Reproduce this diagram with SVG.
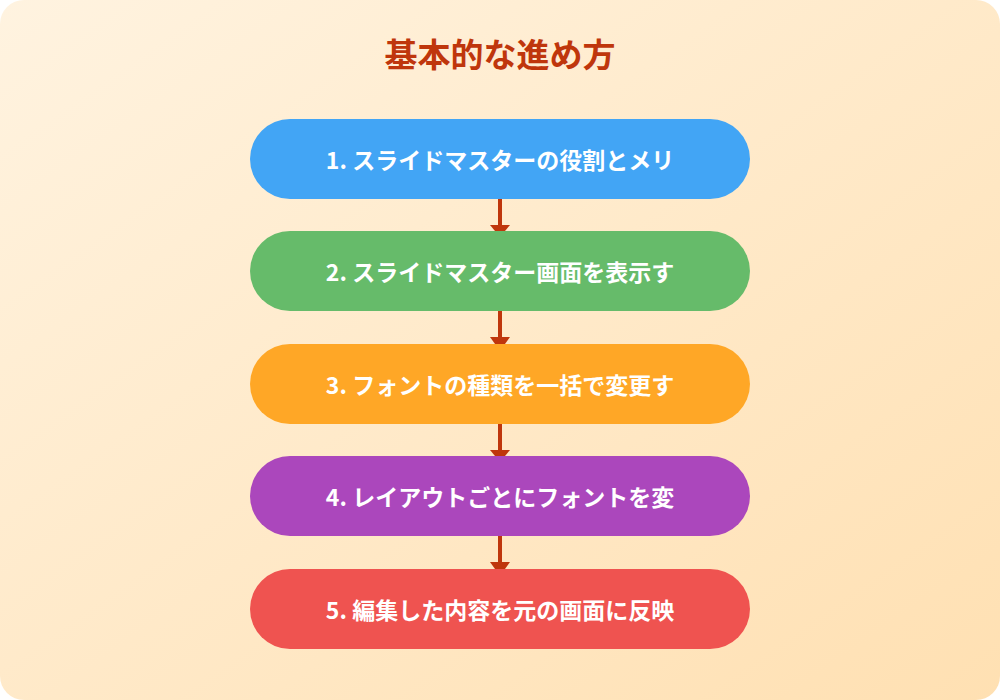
<svg xmlns="http://www.w3.org/2000/svg" width="1000" height="700" viewBox="0 0 1000 700">
<defs>
<linearGradient id="bg" x1="0" y1="0" x2="1" y2="1">
<stop offset="0" stop-color="#FFF3E0"/>
<stop offset="1" stop-color="#FFE0B2"/>
</linearGradient>
<style>
.node text{font-family:"Noto Sans CJK JP","Noto Sans",sans-serif;font-weight:bold;font-size:23px;fill:#fff;text-anchor:middle;dominant-baseline:central}
.conn line{stroke:#BF360C;stroke-width:4}
.conn polygon{fill:#BF360C}
.title{font-family:"Noto Sans CJK JP","Noto Sans",sans-serif;font-weight:bold;font-size:33px;fill:#BF360C;text-anchor:middle}
</style>
</defs>
<rect width="1000" height="700" fill="#fff"/>
<rect x="0" y="0" width="1000" height="700" rx="24" fill="url(#bg)"/>
<text class="title" x="500" y="67">基本的な進め方</text>
<g class="conn">
<line x1="500" y1="199" x2="500" y2="226"/>
<polygon points="490,225 510,225 505,231 495,231"/>
<line x1="500" y1="311" x2="500" y2="338"/>
<polygon points="490,337 510,337 505,344 495,344"/>
<line x1="500" y1="424" x2="500" y2="451"/>
<polygon points="490,450 510,450 505,456 495,456"/>
<line x1="500" y1="536" x2="500" y2="563"/>
<polygon points="490,562 510,562 505,569 495,569"/>
</g>
<g id="node1" class="node"><rect x="250" y="119" width="500" height="80" rx="40" fill="#42A5F5"/><text x="500" y="159">1. スライドマスターの役割とメリ</text></g>
<g id="node2" class="node"><rect x="250" y="231" width="500" height="80" rx="40" fill="#66BB6A"/><text x="500" y="271">2. スライドマスター画面を表示す</text></g>
<g id="node3" class="node"><rect x="250" y="344" width="500" height="80" rx="40" fill="#FFA726"/><text x="500" y="384">3. フォントの種類を一括で変更す</text></g>
<g id="node4" class="node"><rect x="250" y="456" width="500" height="80" rx="40" fill="#AB47BC"/><text x="500" y="496">4. レイアウトごとにフォントを変</text></g>
<g id="node5" class="node"><rect x="250" y="569" width="500" height="80" rx="40" fill="#EF5350"/><text x="500" y="609">5. 編集した内容を元の画面に反映</text></g>
</svg>
